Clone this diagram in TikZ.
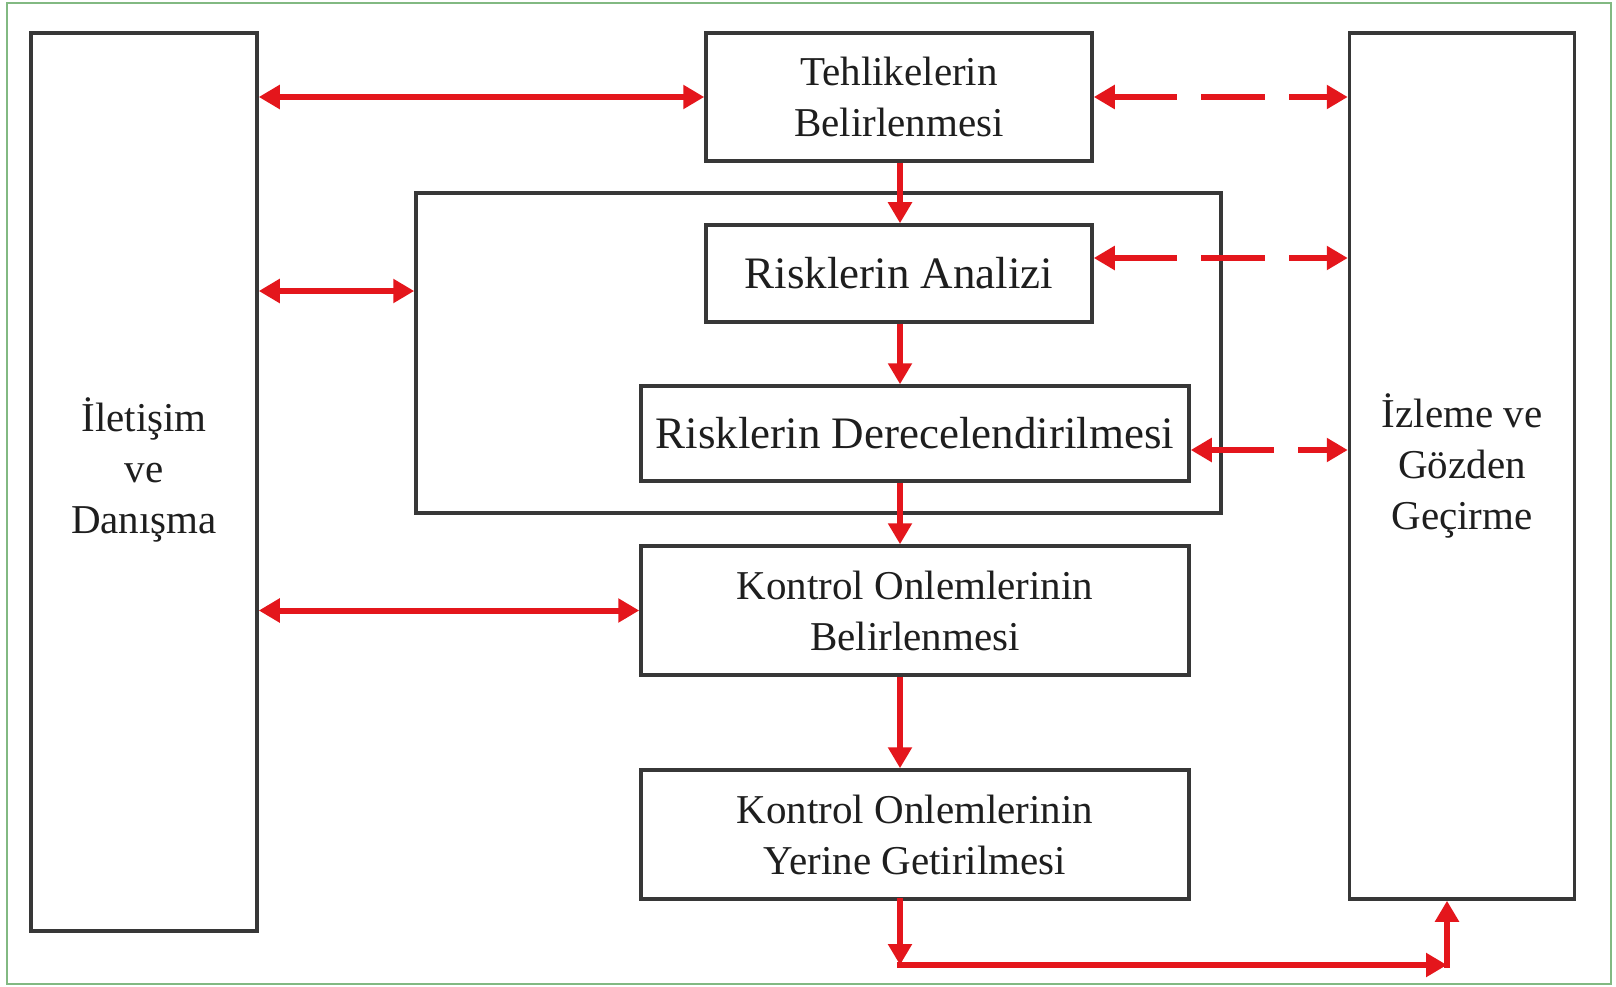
\documentclass[tikz,border=0pt]{standalone}
\usepackage{fontspec}
\setmainfont{Liberation Serif}
\usetikzlibrary{arrows.meta,calc}
\definecolor{rred}{RGB}{228,22,28}
\definecolor{boxgray}{RGB}{55,55,55}
\definecolor{frameg}{RGB}{130,185,130}
\definecolor{txt}{RGB}{30,30,30}
\begin{document}
\begin{tikzpicture}[x=1pt,y=-1pt,
  boxtext/.style={align=center,text=txt,font=\fontsize{41}{51}\selectfont},
  box/.style={draw=boxgray,line width=3.5pt,fill=white,inner sep=0pt,boxtext},
  bigtext/.style={font=\fontsize{45}{54}\selectfont},
  link/.style={draw=rred,line width=6pt,-{Triangle[length=21pt,width=23pt]}},
  both/.style={draw=rred,line width=6pt,{Triangle[length=21pt,width=23pt]}-{Triangle[length=21pt,width=23pt]}},
  dlink/.style={both,dash pattern=on 64pt off 24pt}]

\useasboundingbox (0,0) rectangle (1616,987);
\draw[frameg,line width=2pt] (7,3) rectangle (1611,984);

\node[box,minimum width=805pt,minimum height=320pt] (G) at (818.5,353) {};
\node[box,minimum width=226pt,minimum height=898pt,
  label={[boxtext,yshift=12pt]center:İletişim\\ve\\Danışma}] (L) at (144,482) {};
\node[box,minimum width=386pt,minimum height=128pt] (T) at (899,97) {Tehlikelerin\\Belirlenmesi};
\node[box,bigtext,minimum width=386pt,minimum height=97pt] (A) at (899,273.5) {Risklerin Analizi};
\node[box,bigtext,minimum width=548pt,minimum height=95pt] (D) at (915,433.5) {Risklerin Derecelendirilmesi};
\node[box,minimum width=548pt,minimum height=129pt] (K1) at (915,610.5) {Kontrol Onlemlerinin\\Belirlenmesi};
\node[box,minimum width=548pt,minimum height=129pt] (K2) at (915,834.5) {Kontrol Onlemlerinin\\Yerine Getirilmesi};
\node[box,minimum width=225pt,minimum height=866pt] (R) at (1462,466) {İzleme ve\\Gözden\\Geçirme};

\coordinate (y2) at (0,291);
\coordinate (y5) at (0,258);
\coordinate (y6) at (0,450);
\coordinate (xv) at (900,0);
\coordinate (b1) at (900,965);
\coordinate (b2) at (1447,965);

\draw[both] (T.west -| L.east) -- (T.west);
\draw[both] (y2 -| L.east) -- (y2 -| G.west);
\draw[both] (K1.west -| L.east) -- (K1.west);

\draw[link] (xv |- T.south) -- (xv |- A.north);
\draw[link] (xv |- A.south) -- (xv |- D.north);
\draw[link] (xv |- D.south) -- (xv |- K1.north);
\draw[link] (xv |- K1.south) -- (xv |- K2.north);

\draw[dlink] (T.east) -- (T.east -| R.west);
\draw[dlink] (y5 -| A.east) -- (y5 -| R.west);
\draw[dlink] (y6 -| D.east) -- (y6 -| R.west);

\draw[link,line cap=rect] (b1 |- K2.south) -- (b1);
\draw[link,line cap=rect] (b1) -- (b2);
\draw[link,line cap=rect] (b2) -- (b2 |- R.south);
\end{tikzpicture}
\end{document}
